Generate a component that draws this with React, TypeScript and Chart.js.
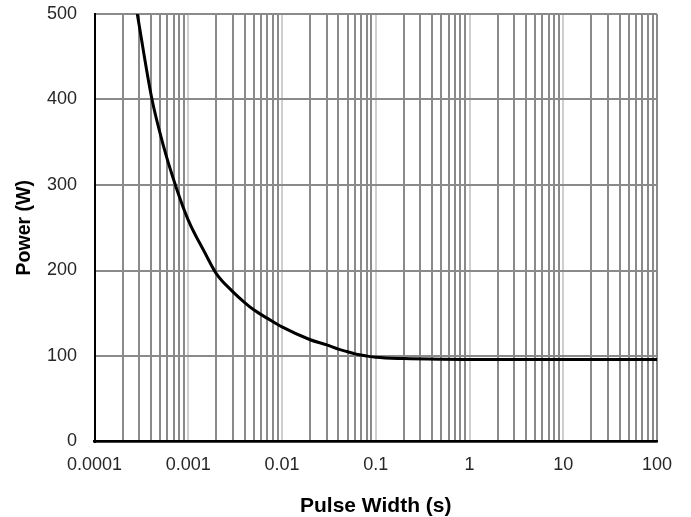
import React, { useEffect, useRef } from "react";
import { Chart, registerables } from "chart.js";

Chart.register(...registerables);

const pulseWidths = [0.000286, 0.000407, 0.00054, 0.00075, 0.001, 0.0015, 0.002, 0.003, 0.004, 0.005, 0.007, 0.01, 0.02, 0.03, 0.04, 0.05, 0.06, 0.08, 0.1, 0.2, 0.5, 1, 10, 100];
const powers = [500, 402, 347, 296, 259, 221, 196, 175, 162.5, 154, 144, 134, 119, 113, 108, 105, 102.5, 100, 98.5, 97, 96.2, 96, 95.8, 95.8];

const xDecades = [0.0001, 0.001, 0.01, 0.1, 1, 10, 100];
const xTickLabels = ["0.0001", "0.001", "0.01", "0.1", "1", "10", "100"];
const yTicks = [0, 100, 200, 300, 400, 500];

const FONT = "'Liberation Sans', Arial, sans-serif";

export default function App() {
  const ref = useRef<HTMLCanvasElement | null>(null);

  useEffect(() => {
    document.body.style.margin = "0";
    const canvas = ref.current;
    if (!canvas) return;

    const gridValues: number[] = [];
    for (let d = 0; d < xDecades.length; d++) {
      const base = xDecades[d];
      if (d === xDecades.length - 1) {
        gridValues.push(base);
        break;
      }
      for (let k = 1; k <= 9; k++) gridValues.push(parseFloat((base * k).toPrecision(6)));
    }

    const isDecade = (v: number) => {
      const l = Math.log10(v);
      return Math.abs(l - Math.round(l)) < 1e-6;
    };

    const chart = new Chart(canvas, {
      type: "line",
      data: {
        datasets: [
          {
            data: pulseWidths.map((x, i) => ({ x, y: powers[i] })),
            borderColor: "#000000",
            borderWidth: 3,
            pointRadius: 0,
            cubicInterpolationMode: "monotone",
            fill: false,
          },
        ],
      },
      options: {
        animation: false,
        responsive: false,
        maintainAspectRatio: false,
        layout: { padding: { top: 14, right: 34, bottom: 0, left: 0 } },
        plugins: { legend: { display: false }, tooltip: { enabled: false } },
        scales: {
          x: {
            type: "logarithmic",
            min: 0.0001,
            max: 100,
            afterBuildTicks: (scale: any) => {
              scale.ticks = gridValues.map((v) => ({ value: v }));
            },
            afterFit: (scale: any) => {
              scale.height = 75.5;
              scale.paddingLeft = 0;
              scale.paddingRight = 0;
            },
            ticks: {
              autoSkip: false,
              maxRotation: 0,
              minRotation: 0,
              padding: 13,
              color: "#262626",
              font: { family: FONT, size: 18 },
              callback: (value: any) => {
                const v = Number(value);
                const idx = xDecades.findIndex((d) => Math.abs(Math.log10(d) - Math.log10(v)) < 1e-6);
                return idx >= 0 ? xTickLabels[idx] : "";
              },
            },
            grid: {
              drawTicks: false,
              lineWidth: 2,
              color: (ctx: any) => {
                const v = ctx.tick ? ctx.tick.value : 0;
                if (v >= 99.9) return "#8a8a8a";
                return isDecade(v) ? "#cfcfcf" : "#8a8a8a";
              },
            },
            border: { display: true, color: "#000000", width: 2.5 },
            title: {
              display: true,
              text: "Pulse Width (s)",
              color: "#000000",
              font: { family: FONT, size: 21, weight: "bold", lineHeight: 1 },
              padding: { top: 0, bottom: 0.5 },
            },
          },
          y: {
            type: "linear",
            min: 0,
            max: 500,
            afterBuildTicks: (scale: any) => {
              scale.ticks = yTicks.map((v) => ({ value: v }));
            },
            afterFit: (scale: any) => {
              scale.width = 94.5;
              scale.paddingTop = 0;
              scale.paddingBottom = 0;
            },
            ticks: {
              padding: 17.5,
              color: "#262626",
              font: { family: FONT, size: 18 },
            },
            grid: {
              drawTicks: false,
              lineWidth: 2,
              color: "#8a8a8a",
            },
            border: { display: true, color: "#000000", width: 2 },
            title: {
              display: true,
              text: "Power (W)",
              color: "#000000",
              font: { family: FONT, size: 19.5, weight: "bold", lineHeight: 1 },
              padding: { top: 15, bottom: 0 },
            },
          },
        },
      },
    });

    return () => chart.destroy();
  }, []);

  return <canvas ref={ref} width={691} height={517} style={{ display: "block" }} />;
}
